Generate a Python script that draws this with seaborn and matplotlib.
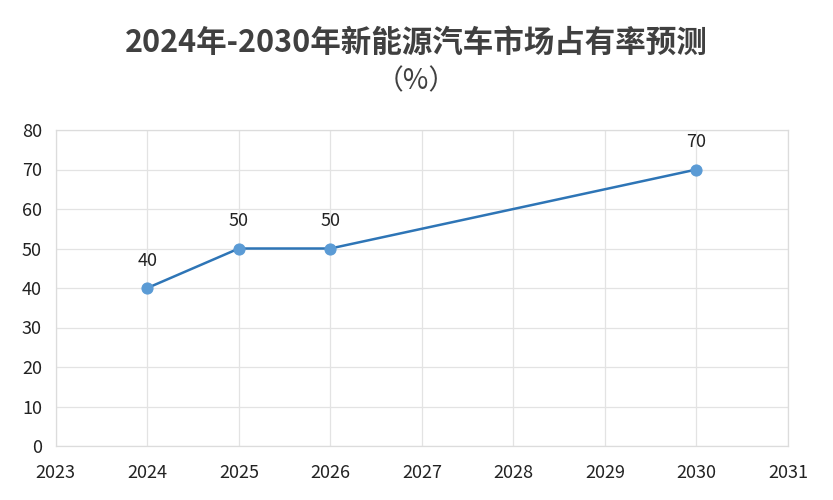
import matplotlib.pyplot as plt
import pandas as pd
import seaborn as sns

years = [2024, 2025, 2026, 2030]
share = [40, 50, 50, 70]
x_ticks = [2023, 2024, 2025, 2026, 2027, 2028, 2029, 2030, 2031]
y_ticks = [0, 10, 20, 30, 40, 50, 60, 70, 80]
title_main = '2024年-2030年新能源汽车市场占有率预测'
title_unit = '（%）'

df = pd.DataFrame({'year': years, 'share': share})

sns.set_style('white')
plt.rcParams['font.family'] = ['Noto Sans CJK SC', 'DejaVu Sans']

fig = plt.figure(figsize=(8.33, 5), dpi=100)
ax = fig.add_axes([0.067, 0.108, 0.879, 0.632])

sns.lineplot(data=df, x='year', y='share', ax=ax, color='#2e75b6', linewidth=1.8,
             marker='o', markersize=8, markerfacecolor='#5b9bd5', markeredgecolor='#5b9bd5')

# value labels above the points
for x, y in zip(years, share):
    ax.annotate(f'{y}', (x, y), xytext=(0, 13), textcoords='offset points',
                ha='center', va='bottom', fontsize=13, color='#222222')

ax.set_xlim(2023, 2031)
ax.set_ylim(0, 80)
ax.set_xticks(x_ticks)
ax.set_yticks(y_ticks)
ax.grid(True, color='#e3e3e3', linewidth=0.9)
for s in ax.spines.values():
    s.set_color('#dcdcdc')
    s.set_linewidth(0.9)
ax.tick_params(axis='both', labelsize=13, colors='#222222', length=0)
ax.tick_params(axis='x', pad=13)
ax.tick_params(axis='y', pad=10)
ax.set_xlabel('')
ax.set_ylabel('')

fig.text(0.5, 0.914, title_main, ha='center', va='center',
         fontsize=22, color='#404040', fontweight='bold')
fig.text(0.5, 0.838, title_unit, ha='center', va='center', fontsize=20, color='#404040')

plt.savefig('out.png', facecolor='white')
